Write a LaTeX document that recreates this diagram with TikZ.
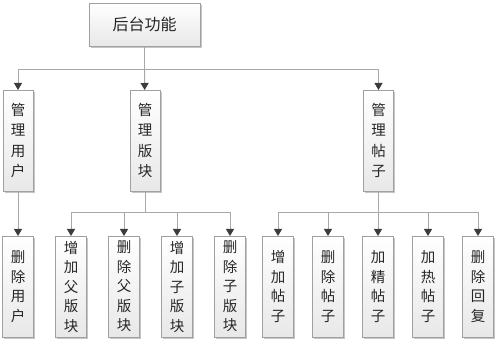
\documentclass[tikz,border=0pt]{standalone}
\usepackage{fontspec}
\setmainfont{Noto Sans CJK SC}
\usetikzlibrary{arrows.meta, positioning, shadows}
\definecolor{boxline}{HTML}{A0A0A0}
\definecolor{linkgray}{HTML}{A8A8A8}
\definecolor{tipgray}{HTML}{3C3C3C}
\definecolor{boxbot}{HTML}{E8E8E8}
\tikzset{
	fbox/.style={draw=boxline, line width=0.8pt, top color=white, bottom color=boxbot,
		drop shadow={shadow xshift=1.6pt, shadow yshift=-1.6pt, fill=gray!45, opacity=1},
		inner sep=0pt, outer sep=0pt, align=center, text=black!85},
	topbox/.style={fbox, minimum width=111pt, minimum height=43pt,
		font=\fontsize{16}{18}\selectfont},
	vbox/.style={fbox, minimum width=30pt, minimum height=101pt,
		font=\fontsize{14.5}{20.5}\selectfont},
	leafbox/.style={fbox, minimum width=31pt, minimum height=101pt,
		font=\fontsize{14.5}{19.5}\selectfont},
	link/.style={draw=linkgray, line width=1pt},
	larr/.style={link, -{Triangle[length=7pt, width=8pt, color=tipgray]}}
}

\begin{document}
\begin{tikzpicture}[x=1pt, y=1pt]
	\useasboundingbox (0,0) rectangle (500,342);
	% top
	\node[topbox] (root) at (144.5,317.5) {后台功能};
	% second level
	\node[vbox] (user) at (18,201.5) {管\\理\\用\\户};
	\node[vbox] (board) at (145,201.5) {管\\理\\版\\块};
	\node[vbox] (post) at (378.5,201.5) {管\\理\\帖\\子};
	% leaves
	\node[leafbox] (deluser) at (18,55.5) {删\\除\\用\\户};
	\begin{scope}[node distance=22pt]
		\node[leafbox] (addpar) at (71,55.5) {增\\加\\父\\版\\块};
		\node[leafbox, right=of addpar] (delpar) {删\\除\\父\\版\\块};
		\node[leafbox, right=of delpar] (addsub) {增\\加\\子\\版\\块};
		\node[leafbox, right=of addsub] (delsub) {删\\除\\子\\版\\块};
	\end{scope}
	\begin{scope}[node distance=19pt]
		\node[leafbox] (addpost) at (278,55.5) {增\\加\\帖\\子};
		\node[leafbox, right=of addpost] (delpost) {删\\除\\帖\\子};
		\node[leafbox, right=of delpost] (bestpost) {加\\精\\帖\\子};
		\node[leafbox, right=of bestpost] (hotpost) {加\\热\\帖\\子};
		\node[leafbox, right=of hotpost] (delreply) {删\\除\\回\\复};
	\end{scope}
	% junctions
	\coordinate (j0) at (root.south |- 0,272);
	\coordinate (j1) at (board.south |- 0,129);
	\coordinate (j2) at (post.south |- 0,129);
	% connectors
	\draw[link] (root) -- (j0);
	\draw[larr] (j0) -| (user);
	\draw[larr] (j0) -- (board);
	\draw[larr] (j0) -| (post);
	\draw[larr] (user) -- (deluser);
	\draw[link] (board) -- (j1);
	\foreach \n in {addpar, delpar, addsub, delsub}
		\draw[larr] (j1) -| (\n);
	\draw[link] (post) -- (j2);
	\foreach \n in {addpost, delpost, bestpost, hotpost, delreply}
		\draw[larr] (j2) -| (\n);
\end{tikzpicture}
\end{document}
